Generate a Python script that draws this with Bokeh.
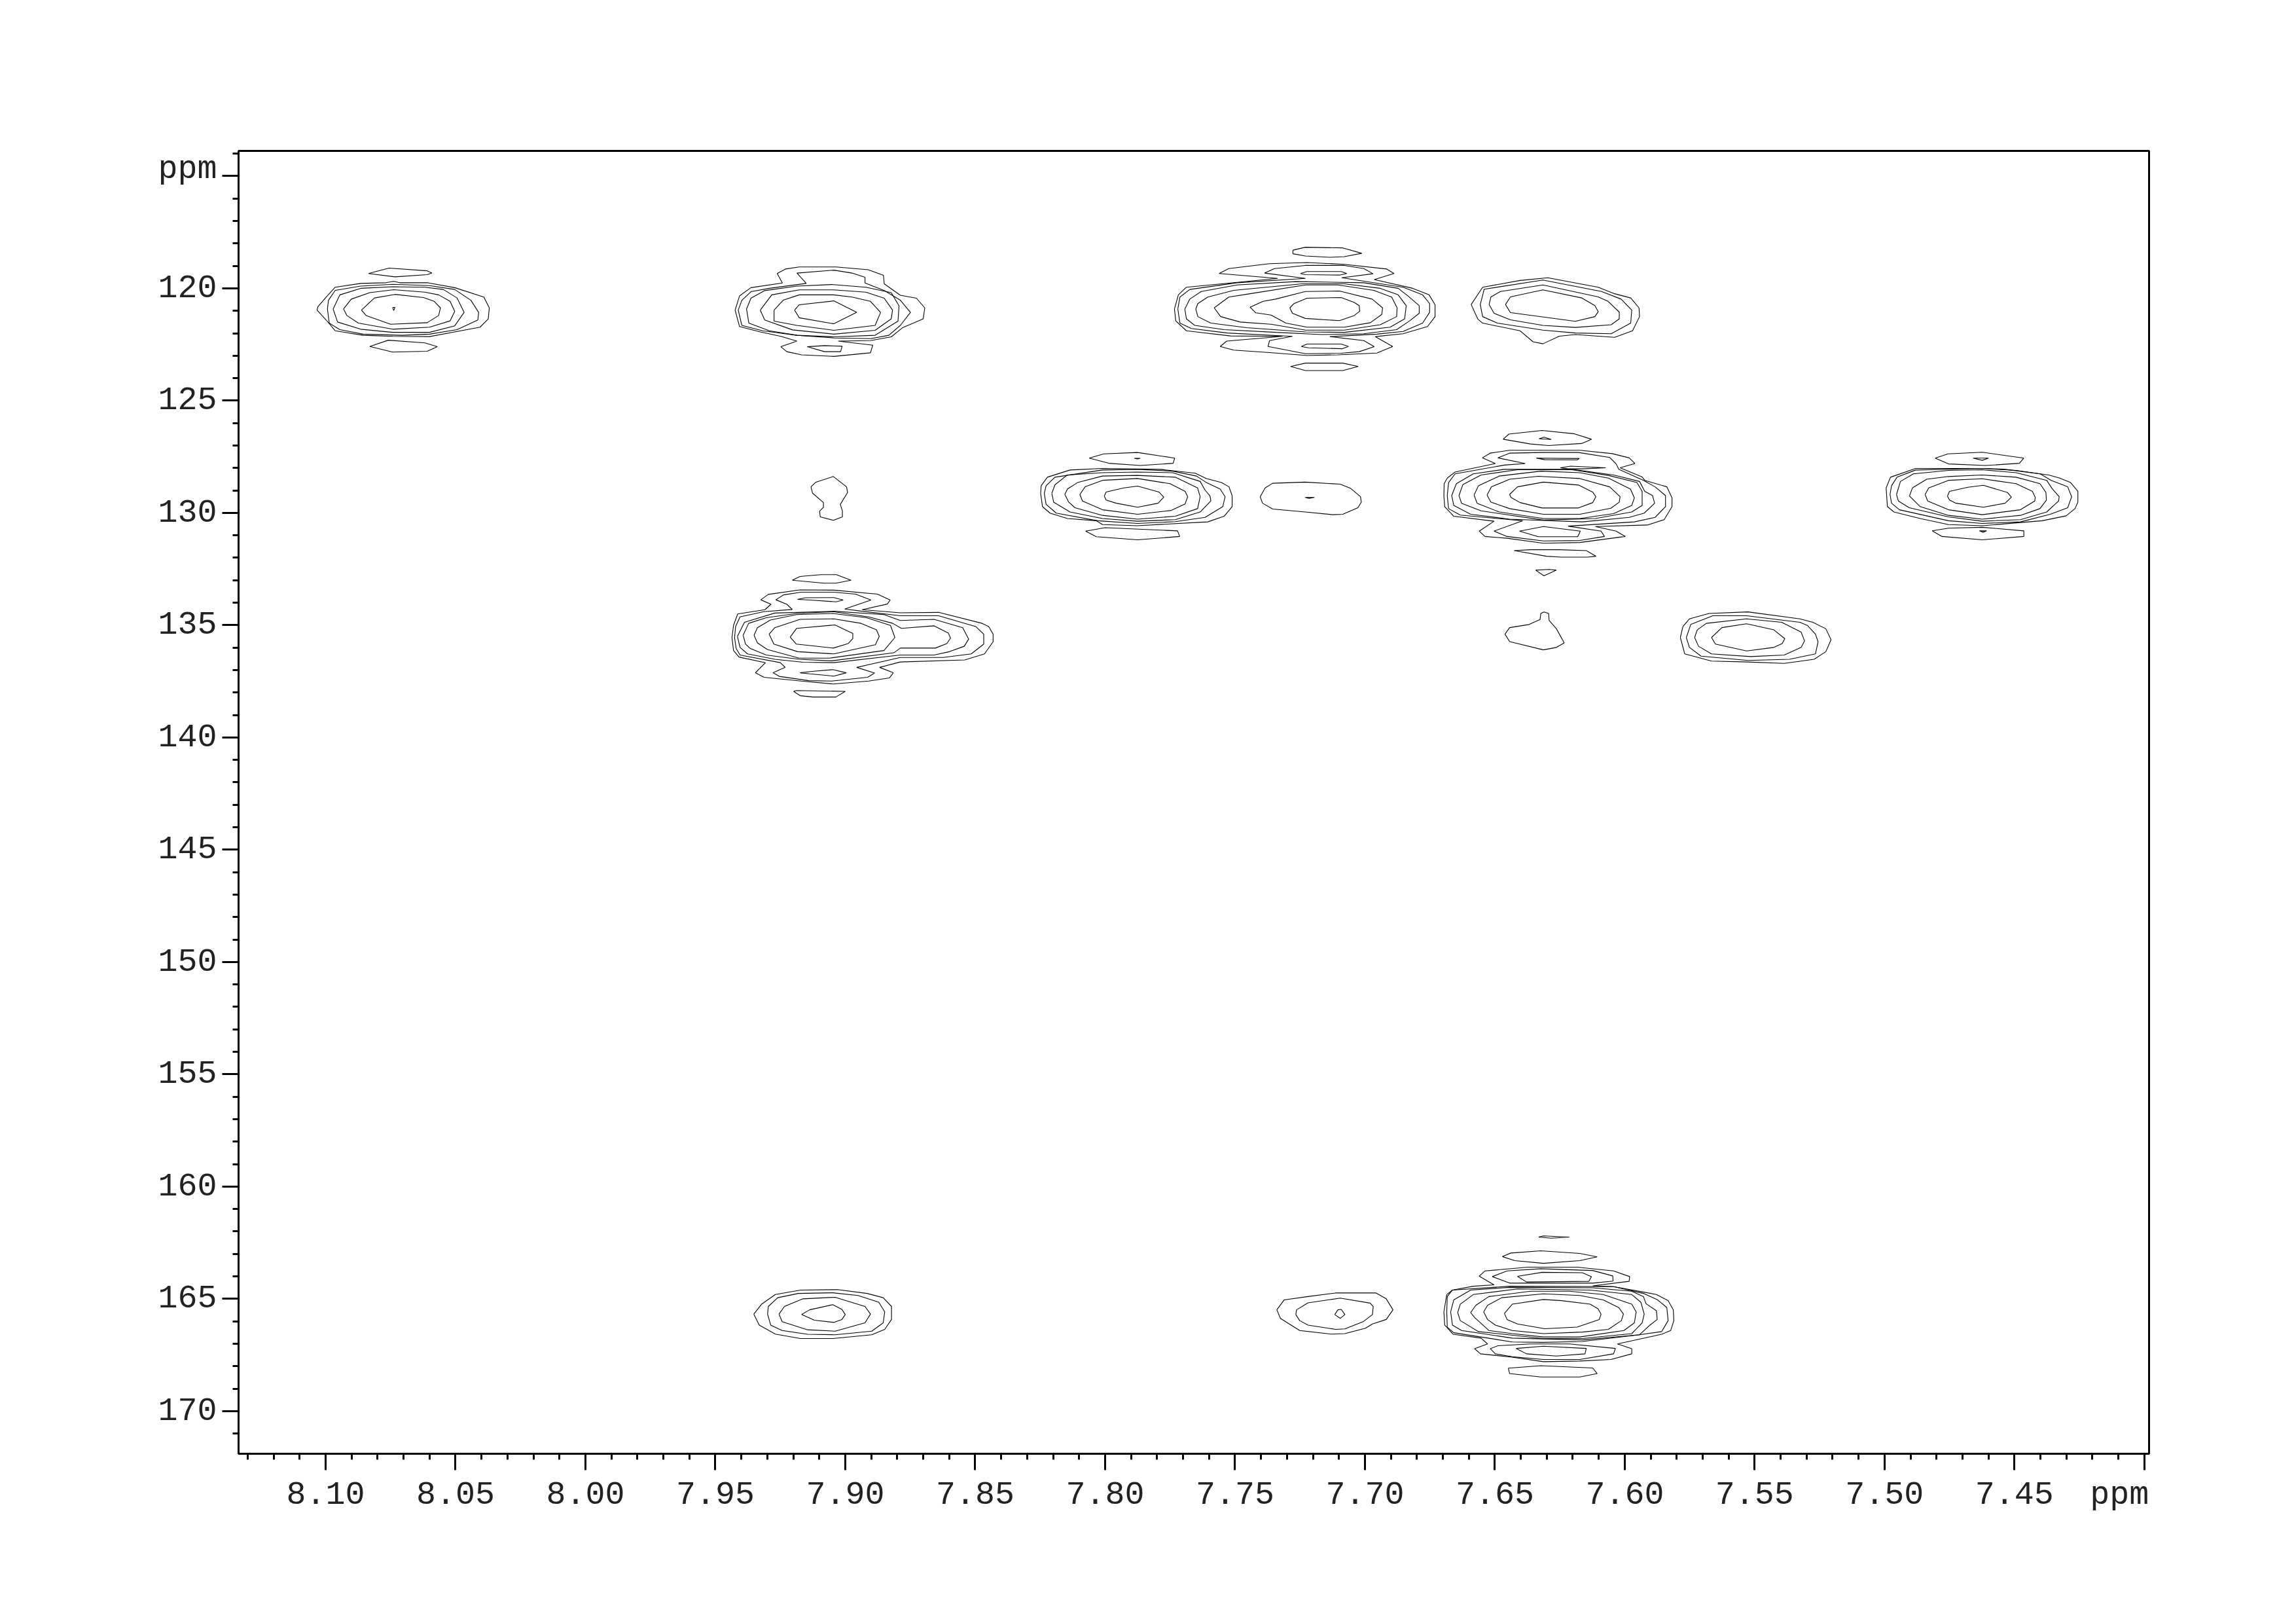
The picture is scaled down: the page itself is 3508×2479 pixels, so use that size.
from bokeh.embed import file_html
from bokeh.resources import INLINE
from bokeh.plotting import figure
from bokeh.models import Range1d, FixedTicker, LinearAxis

# Axis ticks
x_ticks = [8.10, 8.05, 8.00, 7.95, 7.90, 7.85, 7.80, 7.75, 7.70, 7.65, 7.60, 7.55, 7.50, 7.45, 7.40]
y_ticks = [115, 120, 125, 130, 135, 140, 145, 150, 155, 160, 165, 170]
# Axis labels and where they sit; the unit label is beside the last tick rather than on it.
x_label_positions = [8.10, 8.05, 8.00, 7.95, 7.90, 7.85, 7.80, 7.75, 7.70, 7.65, 7.60, 7.55, 7.50, 7.45, 7.4096]
x_labels = ["8.10", "8.05", "8.00", "7.95", "7.90", "7.85", "7.80", "7.75", "7.70", "7.65", "7.60", "7.55", "7.50", "7.45", "ppm"]
y_label_positions = [114.7, 120, 125, 130, 135, 140, 145, 150, 155, 160, 165, 170]
y_labels = ["ppm", "120", "125", "130", "135", "140", "145", "150", "155", "160", "165", "170"]

# Cross-peak contours: centre in ppm (F2, F1); ring vertices as offsets from it,
# in 0.0001 ppm toward lower F2 and 0.01 ppm toward higher F1.
peak_a_center = (8.0738, 120.92)
peak_a_rings = [
    [(-124,5),(-106,29),(-12,68),(129,61),(173,29),(180,-5),(156,-34),(115,-51),(5,-65),(-74,-49)],
    [(-193,0),(-180,29),(-136,63),(-4,90),(138,81),(217,53),(235,10),(217,-34),(173,-63),(120,-75),(0,-86),(-92,-73),(-163,-44)],
    [(-233,0),(-216,58),(-127,90),(-4,104),(138,104),(235,75),(271,15),(244,-49),(191,-87),(120,-97),(-4,-99),(-127,-92),(-207,-63)],
    [(-255,0),(-248,63),(-207,92),(-118,112),(32,117),(138,112),(244,92),(324,49),(327,15),(297,-39),(235,-87),(138,-104),(-4,-110),(-127,-102),(-225,-83),(-251,-39)],
    [(-295,5),(-260,49),(-225,97),(-118,117),(-4,122),(138,123),(332,81),(364,44),(368,-5),(347,-53),(235,-95),(129,-117),(23,-117),(0,-123),(-30,-117),(-127,-114),(-225,-97),(-260,-53),(-292,-10)],
    [(-97,-158),(-18,-182),(129,-170),(147,-160),(129,-153),(5,-143)],
    [(-92,167),(-21,139),(120,151),(168,168),(129,188),(-4,192)],
    [(-4,-7),(5,-7),(0,7)],
]

peak_b_center = (7.9062, 121.02)
peak_b_rings = [
    [(-133,-5),(-115,29),(18,56),(106,5),(18,-46),(-115,-29)],
    [(-212,-5),(-212,44),(-124,63),(18,85),(177,63),(198,5),(159,-44),(88,-63),(18,-73),(-115,-73),(-177,-49)],
    [(-265,-5),(-248,39),(-141,83),(18,102),(177,85),(239,34),(244,-5),(212,-58),(141,-85),(18,-95),(-115,-95),(-221,-73)],
    [(-318,-10),(-309,53),(-230,87),(-124,107),(18,114),(177,107),(265,44),(269,-24),(239,-83),(141,-107),(9,-119),(-124,-112),(-248,-92),(-301,-58)],
    [(-350,-5),(-336,63),(-256,87),(-124,107),(18,119),(159,122),(230,107),(274,63),(313,5),(274,-49),(212,-92),(138,-126),(138,-151),(88,-170),(18,-183),(-124,-170),(-88,-124),(-230,-102),(-301,-87),(-336,-49)],
    [(-362,-5),(-345,68),(-265,92),(-186,112),(-124,133),(-186,158),(-163,180),(-106,194),(18,201),(159,185),(168,151),(35,133),(159,131),(239,114),(283,73),(362,34),(368,-15),(336,-58),(274,-71),(212,-122),(209,-160),(150,-185),(27,-197),(-115,-197),(-168,-188),(-200,-168),(-180,-126),(-301,-105),(-345,-68)],
    [(-85,158),(-18,180),(44,180),(50,156),(-18,153)],
]

peak_j_center = (7.9086, 135.50)
peak_j_rings = [
    [(-126,3),(-103,34),(40,52),(97,32),(115,10),(115,-13),(46,-51),(-101,-36)],
    [(-207,-10),(-189,34),(-97,68),(42,78),(202,37),(217,0),(206,-29),(147,-58),(42,-78),(-88,-76),(-185,-39)],
    [(-265,-5),(-252,29),(-214,58),(-92,97),(25,97),(235,63),(277,5),(260,-49),(168,-83),(38,-102),(-101,-97),(-202,-73),(-252,-39)],
    [(-307,-5),(-298,34),(-281,53),(-218,83),(-92,102),(34,109),(273,73),(298,52),(433,52),(477,32),(491,8),(483,-15),(428,-47),(302,-36),(269,-58),(176,-87),(38,-110),(-101,-102),(-218,-83),(-286,-58)],
    [(-329,0),(-319,49),(-290,78),(-185,102),(-76,115),(42,117),(298,83),(428,83),(487,68),(544,44),(561,12),(538,-39),(428,-76),(298,-71),(235,-97),(42,-112),(-185,-104),(-302,-63)],
    [(-340,5),(-334,53),(-319,83),(-164,117),(-145,138),(-192,162),(-168,178),(-55,197),(34,199),(172,182),(199,163),(130,138),(298,94),(462,94),(571,78),(619,34),(619,-10),(588,-44),(445,-92),(298,-92),(151,-112),(84,-122),(185,-162),(126,-188),(42,-197),(-84,-197),(-151,-185),(-181,-163),(-139,-143),(-118,-120),(-227,-110),(-319,-87),(-336,-44)],
    [(-350,5),(-344,63),(-323,92),(-221,117),(-260,162),(-227,182),(-84,199),(40,212),(176,199),(256,185),(271,162),(218,138),(298,114),(546,105),(622,78),(655,24),(655,-10),(638,-44),(613,-58),(445,-107),(298,-105),(151,-119),(248,-144),(259,-162),(210,-188),(42,-206),(-88,-207),(-210,-187),(-239,-163),(-200,-143),(-223,-119),(-328,-100),(-344,-49)],
    [(-98,-165),(-67,-172),(42,-173),(78,-162),(50,-154),(-50,-162)],
    [(-88,162),(-42,156),(38,148),(90,162),(42,177),(-50,167)],
    [(-118,-250),(-88,-267),(-8,-275),(52,-275),(108,-250),(50,-237),(4,-237)],
    [(-113,245),(-88,264),(-38,270),(50,270),(86,245),(-101,241)],
]

peak_c_center = (7.7154, 120.92)
peak_c_rings = [
    [(-135,-5),(-125,19),(-75,42),(56,52),(113,29),(134,10),(132,-15),(113,-29),(63,-51),(-69,-48),(-119,-24)],
    [(-288,-8),(-266,17),(-207,27),(-150,63),(-69,81),(75,81),(175,61),(219,24),(222,-5),(182,-44),(56,-80),(-75,-78),(-190,-44),(-238,-34)],
    [(-426,-5),(-401,34),(-326,58),(-207,68),(-75,94),(75,94),(213,70),(276,34),(278,-5),(257,-53),(188,-83),(50,-107),(-75,-107),(-288,-68),(-370,-53)],
    [(-497,0),(-489,34),(-439,63),(-301,83),(-75,102),(75,104),(251,81),(307,44),(313,-15),(282,-63),(213,-92),(75,-112),(-88,-112),(-351,-83),(-451,-53),(-489,-24)],
    [(-539,0),(-533,44),(-501,73),(-388,92),(-188,104),(-13,114),(150,110),(276,92),(326,53),(363,19),(363,-15),(320,-58),(282,-92),(150,-117),(-113,-122),(-338,-107),(-476,-78),(-520,-44)],
    [(-566,0),(-558,63),(-514,87),(-376,107),(-125,122),(-213,141),(-219,167),(-182,175),(-75,199),(63,197),(132,190),(190,168),(150,141),(19,123),(200,112),(301,100),(376,63),(403,15),(403,-24),(376,-63),(301,-97),(65,-139),(185,-157),(150,-180),(75,-194),(-75,-194),(-194,-180),(-232,-160),(-75,-136),(-338,-117),(-520,-87),(-558,-53)],
    [(-579,0),(-574,53),(-533,97),(-363,120),(-163,122),(-378,143),(-403,167),(-351,183),(-213,194),(-69,207),(50,204),(200,196),(261,167),(194,123),(301,110),(395,78),(424,34),(424,-19),(401,-63),(338,-92),(190,-131),(266,-158),(238,-178),(75,-199),(-69,-207),(-213,-202),(-370,-180),(-407,-158),(-182,-136),(-533,-97),(-564,-63)],
    [(-94,-158),(-69,-167),(63,-167),(84,-158),(56,-151),(-75,-153)],
    [(-91,167),(-69,156),(63,156),(91,167),(66,177),(-63,173)],
    [(-123,-262),(-75,-275),(69,-272),(142,-248),(75,-233),(19,-230),(-75,-236),(-123,-246)],
    [(-132,256),(-75,241),(69,241),(128,256),(69,274),(-75,274)],
]

peak_d_center = (7.6315, 120.87)
peak_d_rings = [
    [(-144,-15),(-125,21),(125,60),(200,39),(213,17),(200,-10),(150,-44),(0,-80),(-125,-49)],
    [(-207,-15),(-188,24),(-125,53),(0,78),(125,87),(263,75),(294,49),(294,19),(251,-29),(213,-49),(0,-102),(-163,-73),(-200,-49)],
    [(-241,-15),(-232,39),(-175,68),(0,99),(125,112),(263,115),(338,68),(342,10),(301,-39),(226,-73),(0,-124),(-226,-83)],
    [(-276,-15),(-251,49),(-232,68),(-88,102),(-38,151),(0,160),(63,126),(125,119),(276,131),(345,102),(372,39),(370,0),(338,-44),(276,-63),(213,-92),(19,-134),(-88,-122),(-232,-92)],
]

peak_e_center = (7.7875, 129.28)
peak_e_rings = [
    [(-128,-3),(-121,15),(-82,29),(0,47),(79,29),(101,2),(82,-21),(0,-47),(-53,-39),(-121,-21)],
    [(-222,-10),(-212,19),(-135,58),(0,78),(130,61),(183,32),(193,0),(183,-24),(125,-58),(0,-81),(-135,-73),(-202,-44)],
    [(-280,-10),(-265,24),(-241,49),(-135,83),(0,100),(145,87),(231,53),(241,0),(231,-39),(145,-87),(0,-95),(-135,-92),(-231,-63),(-270,-34)],
    [(-330,-15),(-323,24),(-260,68),(-135,97),(0,109),(145,102),(241,68),(282,19),(279,-3),(260,-29),(241,-68),(135,-107),(0,-110),(-135,-107),(-270,-97),(-318,-53)],
    [(-359,-15),(-352,34),(-313,73),(-154,107),(0,119),(145,111),(260,92),(328,44),(337,0),(318,-34),(265,-63),(227,-92),(135,-114),(0,-122),(-135,-119),(-318,-87),(-352,-49)],
    [(-373,-15),(-366,44),(-337,73),(-270,97),(-159,107),(-135,124),(0,129),(270,112),(333,87),(364,44),(364,-5),(352,-44),(323,-63),(265,-81),(222,-105),(87,-122),(-135,-126),(-260,-119),(-347,-87),(-371,-49)],
    [(-186,-172),(-130,-191),(0,-197),(143,-172),(137,-149),(10,-139),(-111,-149)],
    [(-200,153),(-125,138),(154,152),(162,177),(0,192),(-159,178)],
    [(-13,-171),(10,-171),(0,-168)],
]

peak_f_center = (7.7220, 129.31)
peak_f_rings = [
    [(-183,-3),(-174,26),(-135,52),(-10,65),(96,77),(135,75),(193,46),(206,21),(203,-3),(164,-41),(125,-59),(-10,-68),(-135,-63),(-164,-42)],
    [(-10,0),(26,0),(5,4)],
]

peak_g_center = (7.9061, 129.33)
peak_g_rings = [
    [(-71,-49),(-65,-21),(-23,21),(-23,42),(-38,60),(-35,85),(15,100),(50,85),(50,58),(42,29),(70,-24),(66,-49),(15,-95),(-52,-70)],
]

peak_h_center = (7.6313, 129.23)
peak_h_rings = [
    [(-130,-5),(-125,8),(-90,31),(-5,55),(135,55),(190,31),(202,5),(190,-15),(135,-47),(0,-60),(-100,-39)],
    [(-217,-2),(-202,29),(-130,58),(0,83),(140,83),(260,56),(292,29),(295,5),(255,-39),(140,-76),(-20,-86),(-130,-73),(-200,-39)],
    [(-267,-2),(-255,34),(-170,73),(0,102),(140,102),(270,80),(340,44),(350,10),(335,-29),(250,-78),(140,-102),(-10,-109),(-170,-87),(-250,-44)],
    [(-325,0),(-315,34),(-240,68),(0,109),(200,102),(340,73),(380,44),(380,-19),(360,-58),(250,-90),(110,-115),(-100,-115),(-240,-92),(-310,-49)],
    [(-353,0),(-345,44),(-280,83),(-130,105),(150,117),(330,97),(388,78),(428,34),(420,0),(390,-19),(370,-63),(270,-92),(110,-117),(-150,-117),(-270,-97),(-335,-53)],
    [(-370,0),(-365,58),(-320,87),(-80,112),(-190,158),(-140,182),(0,202),(140,200),(235,182),(222,158),(95,136),(350,117),(430,97),(470,49),(470,0),(430,-39),(385,-68),(290,-117),(280,-141),(255,-170),(135,-192),(-5,-192),(-130,-189),(-175,-168),(-70,-143),(-150,-136),(-340,-97),(-365,-58)],
    [(-383,0),(-380,49),(-345,92),(-190,114),(-247,158),(-225,182),(-140,190),(0,212),(140,209),(315,182),(280,158),(200,138),(400,131),(465,107),(495,49),(495,10),(475,-39),(390,-68),(380,-83),(295,-124),(352,-143),(330,-168),(265,-187),(140,-202),(-130,-202),(-205,-189),(-235,-168),(-185,-143),(-340,-105),(-370,-78),(-382,-53)],
    [(-27,-167),(138,-165),(130,-159),(5,-160)],
    [(65,-124),(105,-131),(240,-124),(150,-119),(95,-119)],
    [(-92,158),(0,138),(142,158),(132,183),(-20,183)],
    [(-113,245),(-50,241),(60,241),(165,245),(202,270),(170,274),(70,274),(12,270)],
    [(-155,-251),(-133,-274),(-5,-290),(120,-275),(185,-251),(147,-232),(20,-223),(-50,-230)],
    [(-17,-253),(2,-260),(30,-250)],
    [(-30,332),(22,329),(50,332),(2,357)],
]

peak_i_center = (7.4624, 129.28)
peak_i_rings = [
    [(-134,-3),(-126,15),(-101,29),(4,47),(88,29),(112,2),(97,-19),(4,-51),(-55,-42),(-126,-24)],
    [(-220,-10),(-210,19),(-130,58),(0,80),(147,58),(202,19),(204,3),(193,-24),(130,-58),(0,-80),(-130,-73),(-206,-39)],
    [(-280,-3),(-239,44),(-130,83),(0,100),(147,83),(222,53),(247,15),(245,-19),(222,-58),(130,-87),(0,-97),(-130,-90),(-214,-78),(-269,-39)],
    [(-330,-10),(-323,19),(-281,49),(-130,90),(0,109),(147,102),(248,68),(294,19),(296,0),(269,-36),(248,-73),(130,-107),(0,-120),(-130,-117),(-265,-102),(-315,-68)],
    [(-355,-10),(-349,29),(-319,58),(-130,107),(0,119),(147,112),(262,78),(329,49),(344,0),(329,-44),(265,-73),(223,-102),(130,-117),(0,-126),(-256,-119),(-328,-87),(-349,-49)],
    [(-370,-39),(-365,44),(-340,68),(-239,97),(-130,124),(0,129),(231,107),(323,85),(357,53),(368,24),(368,-24),(340,-63),(298,-83),(256,-97),(88,-122),(13,-126),(-256,-126),(-353,-87)],
    [(-181,-172),(-132,-191),(0,-198),(160,-172),(143,-149),(13,-139),(-130,-146)],
    [(-35,-172),(24,-172),(0,-162)],
    [(-193,152),(-130,140),(0,136),(160,152),(160,177),(0,192),(-155,177)],
    [(-11,152),(17,152),(3,158)],
]

peak_k_center = (7.6313, 135.55)
peak_k_rings = [
    [(-148,-15),(-130,18),(0,55),(50,44),(80,24),(50,-39),(22,-76),(20,-107),(2,-114),(-10,-107),(-13,-80),(-55,-58),(-130,-44)],
]

peak_l_center = (7.5526, 135.55)
peak_l_rings = [
    [(-140,0),(-125,29),(-5,60),(100,44),(132,27),(142,5),(100,-34),(-5,-61),(-100,-44)],
    [(-205,0),(-190,39),(-140,73),(10,85),(140,78),(205,44),(218,15),(205,-24),(130,-68),(-5,-83),(-160,-63),(-195,-34)],
    [(-237,0),(-225,44),(-180,83),(0,102),(160,97),(260,73),(270,19),(260,-15),(230,-53),(200,-68),(-5,-97),(-135,-97),(-220,-58)],
    [(-260,0),(-243,73),(-140,105),(0,109),(140,115),(255,97),(300,63),(320,10),(300,-39),(250,-68),(200,-83),(0,-114),(-150,-107),(-225,-83),(-250,-49)],
]

peak_m_center = (7.9057, 165.68)
peak_m_rings = [
    [(-111,2),(-62,27),(14,37),(44,24),(57,2),(44,-21),(9,-42),(-80,-19)],
    [(-198,0),(-186,34),(-88,70),(18,76),(133,39),(154,0),(133,-34),(18,-75),(-106,-68),(-177,-34)],
    [(-242,0),(-230,49),(-186,73),(-88,90),(18,92),(159,76),(203,39),(209,-10),(186,-53),(106,-83),(9,-95),(-124,-92),(-203,-73),(-239,-34)],
    [(-295,0),(-274,49),(-212,89),(-115,109),(9,109),(159,92),(209,68),(235,24),(235,-34),(203,-73),(141,-92),(27,-109),(-115,-107),(-212,-87),(-265,-44)],
]

peak_n_center = (7.7095, 165.70)
peak_n_rings = [
    [(-21,0),(-9,-21),(4,-23),(18,0),(0,17)],
    [(-171,0),(-156,27),(-124,47),(-18,66),(18,64),(88,32),(124,0),(127,-36),(115,-51),(0,-73),(-124,-52),(-168,-21)],
    [(-244,-21),(-230,17),(-156,71),(-35,87),(18,85),(97,61),(124,42),(177,22),(203,-21),(177,-70),(138,-96),(-18,-96),(-124,-80),(-216,-65)],
]

peak_o_center = (7.6313, 165.68)
peak_o_rings = [
    [(-150,-3),(-140,24),(-100,44),(5,65),(130,58),(215,24),(222,0),(210,-24),(180,-44),(70,-60),(0,-65),(-120,-44)],
    [(-230,-10),(-215,24),(-185,49),(-120,73),(0,87),(150,80),(250,68),(300,29),(308,0),(290,-29),(230,-63),(140,-83),(0,-90),(-160,-73),(-215,-39)],
    [(-280,-7),(-265,15),(-210,73),(-120,87),(0,102),(140,102),(310,73),(350,39),(357,-10),(340,-44),(230,-87),(100,-102),(-50,-102),(-210,-78),(-260,-39)],
    [(-330,-7),(-320,29),(-250,78),(0,109),(150,109),(340,87),(380,39),(388,0),(375,-53),(340,-87),(180,-107),(-100,-112),(-270,-87),(-320,-44)],
    [(-357,-10),(-350,49),(-315,73),(-120,107),(150,115),(370,92),(410,49),(438,24),(435,-15),(395,-46),(385,-78),(340,-102),(190,-117),(-130,-119),(-280,-107),(-345,-63)],
    [(-372,-10),(-370,58),(-345,83),(-120,124),(0,126),(150,122),(370,92),(455,78),(480,29),(475,-29),(440,-63),(385,-92),(270,-122),(-130,-124),(-350,-107),(-370,-78)],
    [(-383,-10),(-380,49),(-347,90),(-240,107),(-215,133),(-265,154),(-242,177),(-120,192),(0,212),(140,209),(260,202),(340,177),(340,154),(285,133),(455,90),(490,73),(502,29),(500,-19),(480,-60),(435,-87),(390,-97),(270,-122),(190,-126),(330,-146),(332,-167),(270,-192),(130,-209),(-60,-209),(-225,-192),(-247,-169),(-190,-130),(-270,-124),(-350,-107),(-372,-87)],
    [(-197,-167),(-140,-192),(-10,-202),(190,-194),(267,-170),(268,-147),(190,-138),(-130,-138)],
    [(-100,-168),(-5,-186),(150,-184),(185,-167),(175,-146),(-65,-143)],
    [(-205,154),(-175,141),(-50,133),(100,133),(277,153),(270,177),(140,202),(0,202),(-120,190),(-185,177)],
    [(-105,153),(0,143),(165,153),(160,177),(50,187),(-65,177)],
    [(-158,-256),(-125,-272),(-10,-282),(140,-270),(207,-255),(140,-238),(0,-226),(-110,-238)],
    [(-18,-343),(0,-348),(100,-343),(30,-338)],
    [(-135,241),(-10,230),(190,240),(207,265),(140,280),(-10,280),(-130,265)],
]

peaks = [
    (peak_a_center, peak_a_rings), (peak_b_center, peak_b_rings), (peak_c_center, peak_c_rings),
    (peak_d_center, peak_d_rings), (peak_e_center, peak_e_rings), (peak_f_center, peak_f_rings),
    (peak_g_center, peak_g_rings), (peak_h_center, peak_h_rings), (peak_i_center, peak_i_rings),
    (peak_j_center, peak_j_rings), (peak_k_center, peak_k_rings), (peak_l_center, peak_l_rings),
    (peak_m_center, peak_m_rings), (peak_n_center, peak_n_rings), (peak_o_center, peak_o_rings),
]

xs, ys = [], []
for (cx, cy), rings in peaks:
    for ring in rings:
        closed = ring + ring[:1]
        xs.append([cx - dx * 1e-4 for dx, _ in closed])
        ys.append([cy + dy * 0.01 for _, dy in closed])

FONT = "Liberation Mono"
FONT_SIZE = "50px"
TEXT_COLOR = "#222222"

p = figure(
    width=3492, height=2463, output_backend="svg", toolbar_location=None,
    x_range=Range1d(8.1335, 7.3982), y_range=Range1d(171.90, 113.88),
    min_border_left=364, min_border_right=209, min_border_top=230, min_border_bottom=243,
)
p.grid.visible = False
p.background_fill_color = "white"
p.border_fill_color = "white"
p.outline_line_color = "black"
p.outline_line_width = 3

p.multi_line(xs, ys, line_color="black", line_width=1.1)

# Inner axes: the frame line and tick marks, with blank labels.
ax = p.xaxis[0]
ax.ticker = FixedTicker(ticks=x_ticks, minor_ticks=[round(8.13 - i * 0.01, 2) for i in range(74)])
ax.major_label_overrides = {t: "" for t in x_ticks}
ay = p.yaxis[0]
ay.ticker = FixedTicker(ticks=y_ticks, minor_ticks=list(range(114, 172)))
ay.major_label_overrides = {t: "" for t in y_ticks}
for a in (ax, ay):
    a.axis_line_color = "black"
    a.axis_line_width = 3
    a.major_tick_line_color = "black"
    a.major_tick_line_width = 3
    a.minor_tick_line_color = "black"
    a.minor_tick_line_width = 3
    a.major_tick_in = 0
    a.minor_tick_in = 0
    a.major_tick_out = 25
    a.minor_tick_out = 9
    a.major_label_standoff = 0
    a.major_label_text_font_size = "1px"


def label_axis(positions, labels, standoff):
    """Outer axis: only the label texts, stacked just beyond the tick marks."""
    return LinearAxis(
        ticker=FixedTicker(ticks=positions, minor_ticks=[]),
        major_label_overrides=dict(zip(positions, labels)),
        axis_line_color=None, major_tick_line_color=None, minor_tick_line_color=None,
        major_tick_in=0, major_tick_out=0, major_label_standoff=standoff,
        major_label_text_font=FONT, major_label_text_font_size=FONT_SIZE,
        major_label_text_color=TEXT_COLOR,
    )


p.add_layout(label_axis(x_label_positions, x_labels, 9), "below")
p.add_layout(label_axis(y_label_positions, y_labels, 8), "left")

open("out.html", "w").write(file_html(p, INLINE))
